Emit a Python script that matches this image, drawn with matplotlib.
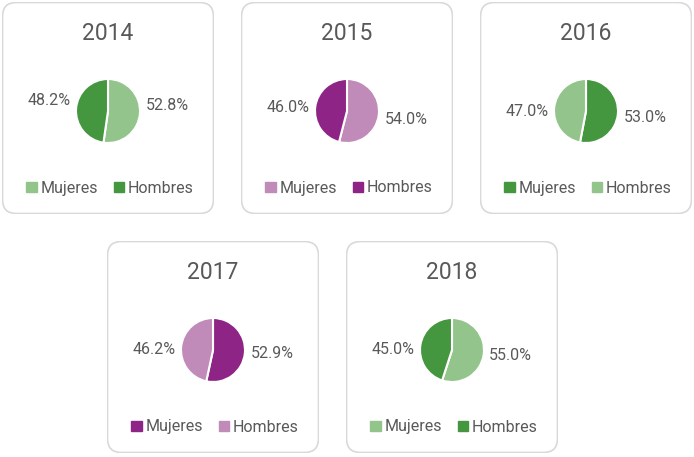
import matplotlib.pyplot as plt
from matplotlib.patches import FancyBboxPatch, Patch

plt.rcParams['font.family'] = ['Roboto', 'DejaVu Sans']

# datos
anios = ['2014', '2015', '2016', '2017', '2018']
categorias = ['Mujeres', 'Hombres']
mujeres = [52.8, 54.0, 53.0, 52.9, 55.0]
hombres = [48.2, 46.0, 47.0, 46.2, 45.0]

verde_claro = '#93C48B'
verde_osc = '#44963F'
morado_claro = '#C08AB9'
morado_osc = '#8E2486'
colores = [
    (verde_claro, verde_osc),
    (morado_claro, morado_osc),
    (verde_osc, verde_claro),
    (morado_osc, morado_claro),
    (verde_claro, verde_osc),
]

W, H = 694, 457
# esquina superior izquierda de cada tarjeta (px)
tarjetas = [(2, 2), (241, 2), (480, 2), (107, 241), (346, 241)]
lado = 212
cx, cy = 106, 109  # centro de la tarta dentro de la tarjeta, desde arriba
# altura de las etiquetas respecto al centro (px), como las coloca Excel
alto_etq = [(6, 11), (-8, 3), (-6, 0), (-3, 0), (-5, 1)]
gris = '#595959'

fig = plt.figure(figsize=(W / 100, H / 100), dpi=100)

for i, (x0, y0) in enumerate(tarjetas):
    ax = fig.add_axes([x0 / W, 1 - (y0 + lado) / H, lado / W, lado / H])
    ax.axis('off')
    vals = [mujeres[i], hombres[i]]
    etiquetas = [f'{v:.1f}%' for v in vals]
    wedges, textos = ax.pie(vals, colors=colores[i], startangle=90, counterclock=False,
                            radius=32, labels=etiquetas, labeldistance=1.18,
                            wedgeprops=dict(edgecolor='white', linewidth=1.5),
                            textprops=dict(color=gris, fontsize=11.5))
    for t, dy in zip(textos, alto_etq[i]):
        t.set_y(dy)
    # limites: la tarjeta en px con la tarta en el origen
    izq, der = -cx, lado - cx
    arr, aba = cy, -(lado - cy)
    ax.set_xlim(izq, der)
    ax.set_ylim(aba, arr)
    caja = FancyBboxPatch((izq + 0.5, aba + 0.5), lado - 1, lado - 1,
                          boxstyle='round,pad=0,rounding_size=14',
                          facecolor='white', edgecolor='#D9D9D9', linewidth=1.2,
                          zorder=0)
    ax.add_patch(caja)
    ax.text(0, arr - 31, anios[i], ha='center', va='center', fontsize=16.5,
            color=gris)
    handles = [Patch(color=c) for c in colores[i]]
    ax.legend(handles, categorias, loc='center', bbox_to_anchor=(0.51, 26 / lado),
              ncol=2, frameon=False, handlelength=0.65, handleheight=0.65,
              handletextpad=0.25, columnspacing=0.95, fontsize=11.5, labelcolor=gris)

plt.savefig('out.png', dpi=100)
